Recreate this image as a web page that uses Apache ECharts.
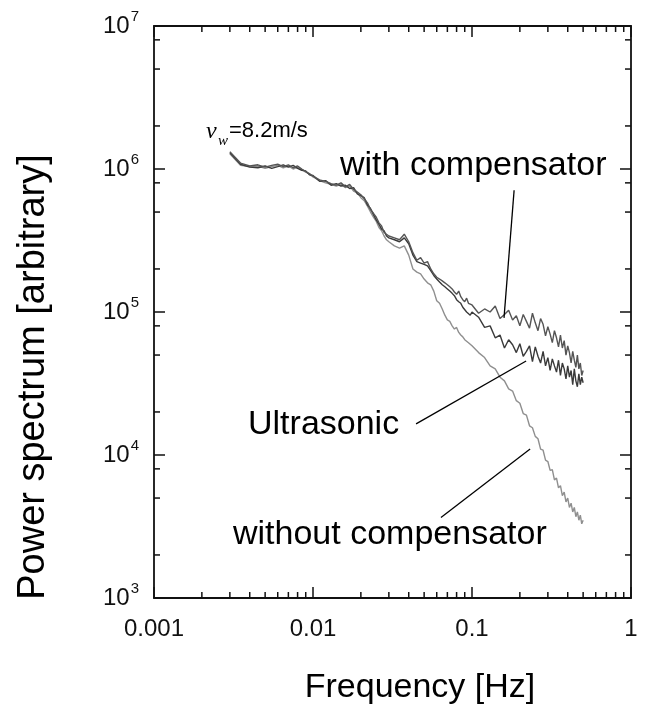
<!DOCTYPE html>
<html><head><meta charset="utf-8">
<script src="https://cdn.jsdelivr.net/npm/echarts@6/dist/echarts.min.js"></script>
<style>html,body{margin:0;padding:0;background:#fff}#c{width:647px;height:713px}</style>
</head><body><div id="c"></div>
<script>
const freq = [0.003,0.0035,0.004,0.0045,0.005,0.0055,0.006,0.0065,0.007,0.0075,0.008,0.0085,0.009,0.0095,
0.010,0.011,0.012,0.013,0.014,0.015,0.016,0.017,0.018,0.019,0.020,0.021,0.022,0.023,0.024,0.025,0.026,0.027,0.028,0.029,
0.03,0.0325,0.035,0.0375,0.04,0.0425,0.045,0.0475,0.05,0.0525,0.055,0.0575,0.06,0.0625,0.065,0.0675,0.07,0.0725,0.075,0.0775,0.08,0.0825,0.085,0.0875,0.09,0.0925,0.095,0.0975,
0.10,0.11,0.12,0.13,0.14,0.15,0.16,0.17,0.18,0.19,0.20,0.21,0.22,0.23,0.24,0.25,0.26,0.27,0.28,0.29,0.30,0.31,0.32,0.33,0.34,0.35,0.36,0.37,0.38,0.39,0.40,0.41,0.42,0.43,0.44,0.45,0.46,0.47,0.48,0.49,0.50];

const withComp = [1.32e6,1.10e6,1.05e6,1.07e6,1.03e6,1.06e6,1.08e6,1.04e6,1.07e6,1.02e6,1.05e6,1.00e6,9.6e5,9.3e5,
8.9e5,8.4e5,8.2e5,7.9e5,7.7e5,8.0e5,7.5e5,7.8e5,7.2e5,6.9e5,6.6e5,6.2e5,5.8e5,5.2e5,4.9e5,4.6e5,4.2e5,4.0e5,3.6e5,3.5e5,
3.4e5,3.3e5,3.2e5,3.5e5,3.1e5,2.6e5,2.3e5,2.4e5,2.2e5,2.25e5,2.0e5,1.85e5,1.75e5,1.7e5,1.65e5,1.6e5,1.55e5,1.5e5,1.45e5,1.38e5,1.33e5,1.4e5,1.28e5,1.22e5,1.18e5,1.25e5,1.15e5,1.12e5,
1.12e5,9.8e4,1.05e5,1.0e5,1.1e5,9.0e4,9.6e4,1.03e5,8.8e4,9.4e4,8.0e4,9.6e4,8.6e4,7.7e4,9.8e4,8.4e4,7.4e4,9.0e4,8.2e4,6.8e4,7.9e4,7.0e4,6.1e4,7.4e4,6.6e4,5.7e4,6.9e4,5.6e4,6.3e4,5.0e4,5.8e4,5.2e4,4.4e4,5.3e4,4.6e4,4.1e4,5.0e4,4.0e4,4.4e4,3.6e4,3.9e4];

const ultrasonic = [1.30e6,1.08e6,1.03e6,1.02e6,1.05e6,1.01e6,1.04e6,1.07e6,1.03e6,1.06e6,1.01e6,9.8e5,9.7e5,9.1e5,
9.0e5,8.2e5,8.3e5,7.7e5,7.9e5,7.6e5,7.7e5,7.3e5,7.4e5,6.7e5,6.5e5,6.3e5,5.6e5,5.3e5,4.8e5,4.4e5,4.1e5,3.8e5,3.7e5,3.4e5,
3.3e5,3.2e5,3.1e5,3.3e5,3.0e5,2.5e5,2.25e5,2.2e5,2.15e5,2.1e5,1.95e5,1.8e5,1.7e5,1.62e5,1.55e5,1.5e5,1.45e5,1.4e5,1.35e5,1.3e5,1.22e5,1.18e5,1.15e5,1.08e5,1.05e5,1.0e5,9.8e4,9.5e4,
1.0e5,9.2e4,7.8e4,8.0e4,6.6e4,6.9e4,5.6e4,6.4e4,5.9e4,5.2e4,6.0e4,4.9e4,5.3e4,5.8e4,4.5e4,5.7e4,4.9e4,4.4e4,5.3e4,4.2e4,4.8e4,3.9e4,4.7e4,4.2e4,3.8e4,4.6e4,3.6e4,4.4e4,4.0e4,3.4e4,4.2e4,3.5e4,3.9e4,3.1e4,4.0e4,3.3e4,3.0e4,3.7e4,3.1e4,3.5e4,3.2e4];

const withoutComp = [1.28e6,1.06e6,1.04e6,1.05e6,1.01e6,1.04e6,1.06e6,1.02e6,1.05e6,1.00e6,1.03e6,9.9e5,9.5e5,9.2e5,
8.8e5,8.3e5,8.0e5,7.8e5,7.6e5,7.8e5,7.4e5,7.6e5,7.0e5,6.8e5,6.3e5,6.0e5,5.5e5,5.0e5,4.6e5,4.3e5,3.9e5,3.7e5,3.4e5,3.2e5,
3.1e5,2.9e5,2.8e5,2.9e5,2.5e5,2.0e5,1.9e5,1.85e5,1.7e5,1.6e5,1.55e5,1.4e5,1.2e5,1.15e5,1.05e5,9.5e4,8.8e4,8.6e4,8.0e4,7.6e4,7.8e4,7.2e4,6.9e4,6.7e4,6.4e4,6.5e4,6.1e4,6.0e4,
5.8e4,5.2e4,4.8e4,4.2e4,4.0e4,3.5e4,3.3e4,2.9e4,2.8e4,2.4e4,2.3e4,1.95e4,1.9e4,1.6e4,1.55e4,1.35e4,1.3e4,1.1e4,1.08e4,9.2e3,9.0e3,7.8e3,7.9e3,6.7e3,6.9e3,5.9e3,6.1e3,5.2e3,5.5e3,4.7e3,5.0e3,4.3e3,4.6e3,4.0e3,4.3e3,3.7e3,4.0e3,3.5e3,3.8e3,3.3e3,3.5e3];

const xTickLabels = ['0.001','0.01','0.1','1'];
const xMinor = [0.002,0.003,0.004,0.005,0.006,0.007,0.008,0.009,0.02,0.03,0.04,0.05,0.06,0.07,0.08,0.09,0.2,0.3,0.4,0.5,0.6,0.7,0.8,0.9];
const yMinor = [2e3,5e3,8e3,2e4,5e4,8e4,2e5,5e5,8e5,2e6,5e6,8e6];
const leaderWith = [[0.184,7.1e5],[0.159,9.1e4]];
const leaderUltra = [[0.0445,1.65e4],[0.219,4.54e4]];
const leaderWithout = [[0.0638,3.65e3],[0.232,1.1e4]];

const X_MIN = 0.001, X_MAX = 1, Y_MIN = 1e3, Y_MAX = 1e7;
const FONT = '"Liberation Sans", Arial, sans-serif';
const INK = '#111';

const chart = echarts.init(document.getElementById('c'), null, {renderer:'canvas'});
const pair = arr => freq.map((f,i) => [f, arr[i]]);
const tickStyle = {color: INK, width: 1.5};

function baseX(pos, showLabel) {
  return {
    type:'log', logBase:10, min:X_MIN, max:X_MAX, position:pos, gridIndex:0,
    axisLine:{show:true, onZero:false, lineStyle:{color:INK, width:1.8}},
    axisTick:{show:true, inside:true, length:11, lineStyle:tickStyle},
    axisLabel:{show:showLabel, margin:19, color:INK, fontSize:24, fontFamily:FONT,
      formatter: v => xTickLabels[Math.round(Math.log10(v)) + 3]},
    splitLine:{show:false}, minorTick:{show:false}
  };
}
function baseY(pos, showLabel) {
  return {
    type:'log', logBase:10, min:Y_MIN, max:Y_MAX, position:pos, gridIndex:0,
    axisLine:{show:true, onZero:false, lineStyle:{color:INK, width:1.8}},
    axisTick:{show:true, inside:true, length:11, lineStyle:tickStyle},
    axisLabel:{show:showLabel, margin:15, color:INK, fontFamily:FONT,
      formatter: v => '{b|10}{s|' + Math.round(Math.log10(v)) + '}',
      rich:{
        b:{fontSize:24, fontFamily:FONT, color:INK, lineHeight:24, verticalAlign:'bottom'},
        s:{fontSize:15, fontFamily:FONT, color:INK, lineHeight:15, verticalAlign:'bottom', padding:[0,0,14,1]}
      }},
    splitLine:{show:false}, minorTick:{show:false}
  };
}

const option = {
  animation:false,
  backgroundColor:'#fff',
  grid:{left:154, right:16, top:26, bottom:115, containLabel:false, outerBoundsMode:'none'},
  xAxis:[baseX('bottom', true), baseX('top', false)],
  yAxis:[baseY('left', true), baseY('right', false)],
  series:[
    {type:'custom', xAxisIndex:0, yAxisIndex:0, silent:true, clip:false, z:5,
     data: xMinor.map(v => [v, Y_MIN]),
     renderItem:(p, api) => {
       const b = api.coord([api.value(0), Y_MIN]);
       const t = api.coord([api.value(0), Y_MAX]);
       return {type:'group', children:[
         {type:'line', shape:{x1:b[0], y1:b[1], x2:b[0], y2:b[1]-6}, style:{stroke:INK, lineWidth:1.5}},
         {type:'line', shape:{x1:t[0], y1:t[1], x2:t[0], y2:t[1]+6}, style:{stroke:INK, lineWidth:1.5}}
       ]};
     }},
    {type:'custom', xAxisIndex:0, yAxisIndex:0, silent:true, clip:false, z:5,
     data: yMinor.map(v => [X_MIN, v]),
     renderItem:(p, api) => {
       const l = api.coord([X_MIN, api.value(1)]);
       const r = api.coord([X_MAX, api.value(1)]);
       return {type:'group', children:[
         {type:'line', shape:{x1:l[0], y1:l[1], x2:l[0]+6, y2:l[1]}, style:{stroke:INK, lineWidth:1.5}},
         {type:'line', shape:{x1:r[0], y1:r[1], x2:r[0]-6, y2:r[1]}, style:{stroke:INK, lineWidth:1.5}}
       ]};
     }},
    {name:'without compensator', type:'line', data:pair(withoutComp), showSymbol:false, silent:true,
     lineStyle:{color:'#8f8f8f', width:1.4}, z:2},
    {name:'Ultrasonic', type:'line', data:pair(ultrasonic), showSymbol:false, silent:true,
     lineStyle:{color:'#3a3a3a', width:1.4}, z:3},
    {name:'with compensator', type:'line', data:pair(withComp), showSymbol:false, silent:true,
     lineStyle:{color:'#555', width:1.4}, z:4},
    {type:'line', data:leaderWith, showSymbol:false, silent:true, lineStyle:{color:'#000', width:1.3}, z:6},
    {type:'line', data:leaderUltra, showSymbol:false, silent:true, lineStyle:{color:'#000', width:1.3}, z:6},
    {type:'line', data:leaderWithout, showSymbol:false, silent:true, lineStyle:{color:'#000', width:1.3}, z:6}
  ],
  graphic:[
    {type:'text', x:34, y:377, rotation:Math.PI/2, style:{text:'Power spectrum [arbitrary]', fontSize:38, fontFamily:FONT, fill:'#000', align:'center', verticalAlign:'middle'}},
    {type:'text', x:420, y:688, style:{text:'Frequency [Hz]', fontSize:34, fontFamily:FONT, fill:'#000', align:'center', verticalAlign:'middle'}},
    {type:'text', x:340, y:166, style:{text:'with compensator', fontSize:34, fontFamily:FONT, fill:'#000', align:'left', verticalAlign:'middle'}},
    {type:'text', x:248, y:425, style:{text:'Ultrasonic', fontSize:34, fontFamily:FONT, fill:'#000', align:'left', verticalAlign:'middle'}},
    {type:'text', x:233, y:535, style:{text:'without compensator', fontSize:34, fontFamily:FONT, fill:'#000', align:'left', verticalAlign:'middle'}},
    {type:'text', x:206, y:132, style:{text:'v', fontSize:24, fontFamily:'"Liberation Serif", serif', fontStyle:'italic', fill:'#000', align:'left', verticalAlign:'middle'}},
    {type:'text', x:218, y:141, style:{text:'w', fontSize:15, fontFamily:'"Liberation Serif", serif', fontStyle:'italic', fill:'#000', align:'left', verticalAlign:'middle'}},
    {type:'text', x:229, y:131, style:{text:'=8.2m/s', fontSize:22, fontFamily:FONT, fill:'#000', align:'left', verticalAlign:'middle'}}
  ]
};
chart.setOption(option);
</script>
</body></html>
